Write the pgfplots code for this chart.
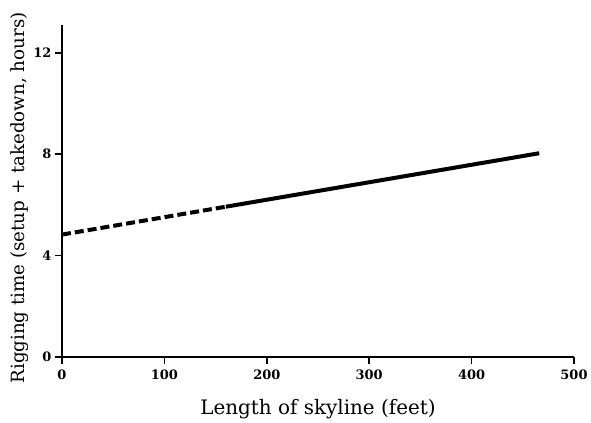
\documentclass[border=0pt]{standalone}
\usepackage{pgfplots}
\pgfplotsset{compat=1.18}
\usepackage{fontspec}
\setmainfont{DejaVu Serif}
\begin{document}
\begin{tikzpicture}
\useasboundingbox (-62bp,-66bp) rectangle (529bp,357bp);
\begin{axis}[
  at={(0,0)}, anchor=origin,
  scale only axis,
  width=512bp, height=332bp,
  xmin=0, xmax=500, ymin=0, ymax=13.1,
  axis x line=bottom, axis y line=left,
  axis line style={-, line width=1.5bp},
  xtick={0,100,200,300,400,500},
  ytick={0,4,8,12},
  tick align=outside,
  major tick length=7bp,
  tick style={line width=1.5bp, black},
  /pgf/number format/assume math mode=true,
  tick label style={font=\bfseries\fontsize{13}{15}\selectfont},
  xticklabel style={yshift=-2bp},
  xlabel={Length of skyline (feet)},
  ylabel={Rigging time (setup + takedown, hours)},
  xlabel style={font=\fontsize{20}{22}\selectfont, yshift=-13bp},
  ylabel style={font=\fontsize{18.3}{20}\selectfont, yshift=-2bp, xshift=-7bp},
  clip=false,
]
\addplot[black, line width=4bp, dash pattern=on 9bp off 4bp] coordinates {(0,4.83) (160,5.93)};
\addplot[black, line width=4bp] coordinates {(160,5.93) (466,8.04)};
\end{axis}
\end{tikzpicture}
\end{document}
